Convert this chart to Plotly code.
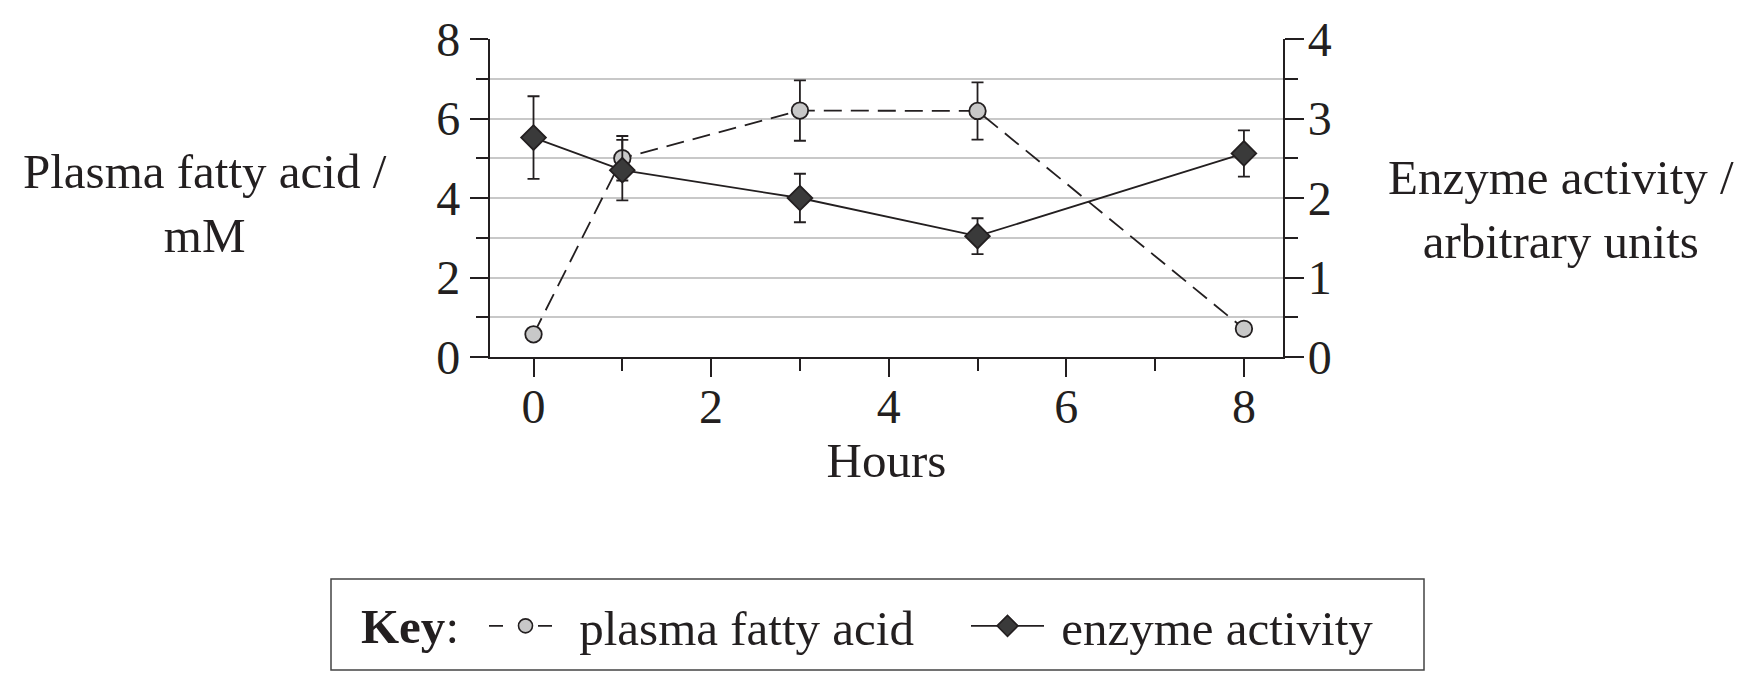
import plotly.graph_objects as go

hours = [0, 1, 3, 5, 8]
fatty_acid = [0.57, 5.0, 6.2, 6.19, 0.71]
fatty_acid_err = [0, 0.56, 0.76, 0.72, 0]
enzyme = [2.76, 2.35, 2.0, 1.52, 2.56]
enzyme_err = [0.52, 0.38, 0.305, 0.225, 0.29]

left_ticks = [0, 2, 4, 6, 8]
right_ticks = [0, 1, 2, 3, 4]
x_ticks = [0, 2, 4, 6, 8]
series_names = ["plasma fatty acid", "enzyme activity"]

DARK = "#231f20"
FONT = "Liberation Serif"
NB = "\u00a0"

W, H = 1758, 690
L, R, T, B = 490, 1758 - 1283, 39, 690 - 357
PW = W - L - R
PH = H - T - B


def px(xp):
    return (xp - L) / PW


def py(yp):
    return (H - B - yp) / PH


circle_marker = dict(symbol="circle", size=16.5, color="#c8c8c8", line=dict(color=DARK, width=1.8))
diamond_marker = dict(symbol="diamond", size=19, color="#3a3a3a", line=dict(color=DARK, width=1.8))

fig = go.Figure()
fig.add_trace(go.Scatter(
    x=hours, y=fatty_acid, name=series_names[0], mode="lines+markers",
    line=dict(color=DARK, width=1.8, dash="18px,9px"),
    marker=circle_marker,
    error_y=dict(type="data", array=fatty_acid_err, color=DARK, thickness=1.8, width=6),
    yaxis="y", showlegend=False,
))
fig.add_trace(go.Scatter(
    x=hours, y=enzyme, name=series_names[1], mode="lines+markers",
    line=dict(color=DARK, width=1.8),
    marker=diamond_marker,
    error_y=dict(type="data", array=enzyme_err, color=DARK, thickness=1.8, width=6),
    yaxis="y2", showlegend=False,
))
# legend-only entries (key symbols)
fig.add_trace(go.Scatter(
    x=[None], y=[None], name=NB + series_names[0], mode="lines+markers",
    line=dict(color=DARK, width=1.8, dash="14px,35px"),
    marker=dict(symbol="circle", size=14, color="#c8c8c8", line=dict(color=DARK, width=1.6)),
    showlegend=True,
))
fig.add_trace(go.Scatter(
    x=[None], y=[None], name=NB + series_names[1], mode="lines+markers",
    line=dict(color=DARK, width=1.8),
    marker=dict(symbol="diamond", size=16, color="#3a3a3a", line=dict(color=DARK, width=1.6)),
    showlegend=True,
))

fig.update_layout(
    width=W, height=H,
    margin=dict(l=L, r=R, t=T, b=B),
    paper_bgcolor="white", plot_bgcolor="white",
    font=dict(family=FONT, color=DARK, size=48),
    xaxis=dict(
        range=[-0.49, 8.44], tickvals=x_ticks, ticks="outside", ticklen=18,
        tickwidth=1.8, tickcolor=DARK, showline=True, linecolor=DARK, linewidth=2.2,
        showgrid=False, zeroline=False, tickfont=dict(size=48), ticklabelstandoff=-12,
        minor=dict(dtick=1, ticks="outside", ticklen=12, tickwidth=1.8, tickcolor=DARK, showgrid=False),
        title=dict(text="Hours", font=dict(size=49), standoff=0),
    ),
    yaxis=dict(
        range=[0, 8], tickvals=left_ticks, ticks="outside", ticklen=18,
        tickwidth=1.8, tickcolor=DARK, showline=True, linecolor=DARK, linewidth=2.2,
        showgrid=True, gridcolor="#c8c8c8", gridwidth=1.8, zeroline=False,
        tickfont=dict(size=48),
        minor=dict(dtick=1, ticks="outside", ticklen=12, tickwidth=1.8, tickcolor=DARK,
                   showgrid=True, gridcolor="#c8c8c8", gridwidth=1.8),
    ),
    yaxis2=dict(
        range=[0, 4], tickvals=right_ticks, overlaying="y", side="right", ticks="outside",
        ticklen=19, tickwidth=1.8, tickcolor=DARK, showline=True, linecolor=DARK,
        linewidth=2.2, showgrid=False, zeroline=False, tickfont=dict(size=48),
        ticklabelstandoff=-6,
        minor=dict(dtick=0.5, ticks="outside", ticklen=13, tickwidth=1.8, tickcolor=DARK, showgrid=False),
    ),
    showlegend=True,
    legend=dict(
        orientation="h", x=px(484), y=py(626), xanchor="left", yanchor="middle",
        borderwidth=0, bgcolor="rgba(0,0,0,0)",
        font=dict(size=49, family=FONT, color=DARK),
        itemsizing="trace", itemwidth=73, entrywidth=394, entrywidthmode="pixels",
        tracegroupgap=0,
    ),
    shapes=[
        dict(type="rect", xref="paper", yref="paper", x0=px(331), x1=px(1424), y0=py(579), y1=py(670),
             line=dict(color="#444", width=1.5), fillcolor="rgba(0,0,0,0)"),
    ],
    annotations=[
        dict(text="Plasma fatty acid /<br>mM", x=px(205), y=py(203), xref="paper", yref="paper",
             xanchor="center", yanchor="middle", showarrow=False, align="center",
             font=dict(size=49, family=FONT, color=DARK)),
        dict(text="Enzyme activity /<br>arbitrary units", x=px(1561), y=py(209), xref="paper", yref="paper",
             xanchor="center", yanchor="middle", showarrow=False, align="center",
             font=dict(size=49, family=FONT, color=DARK)),
        dict(text="<b>Key</b>:", x=px(359), y=py(626), xref="paper", yref="paper",
             xanchor="left", yanchor="middle", showarrow=False,
             font=dict(size=49, family=FONT, color=DARK)),
    ],
)

fig.write_html("out.html")
